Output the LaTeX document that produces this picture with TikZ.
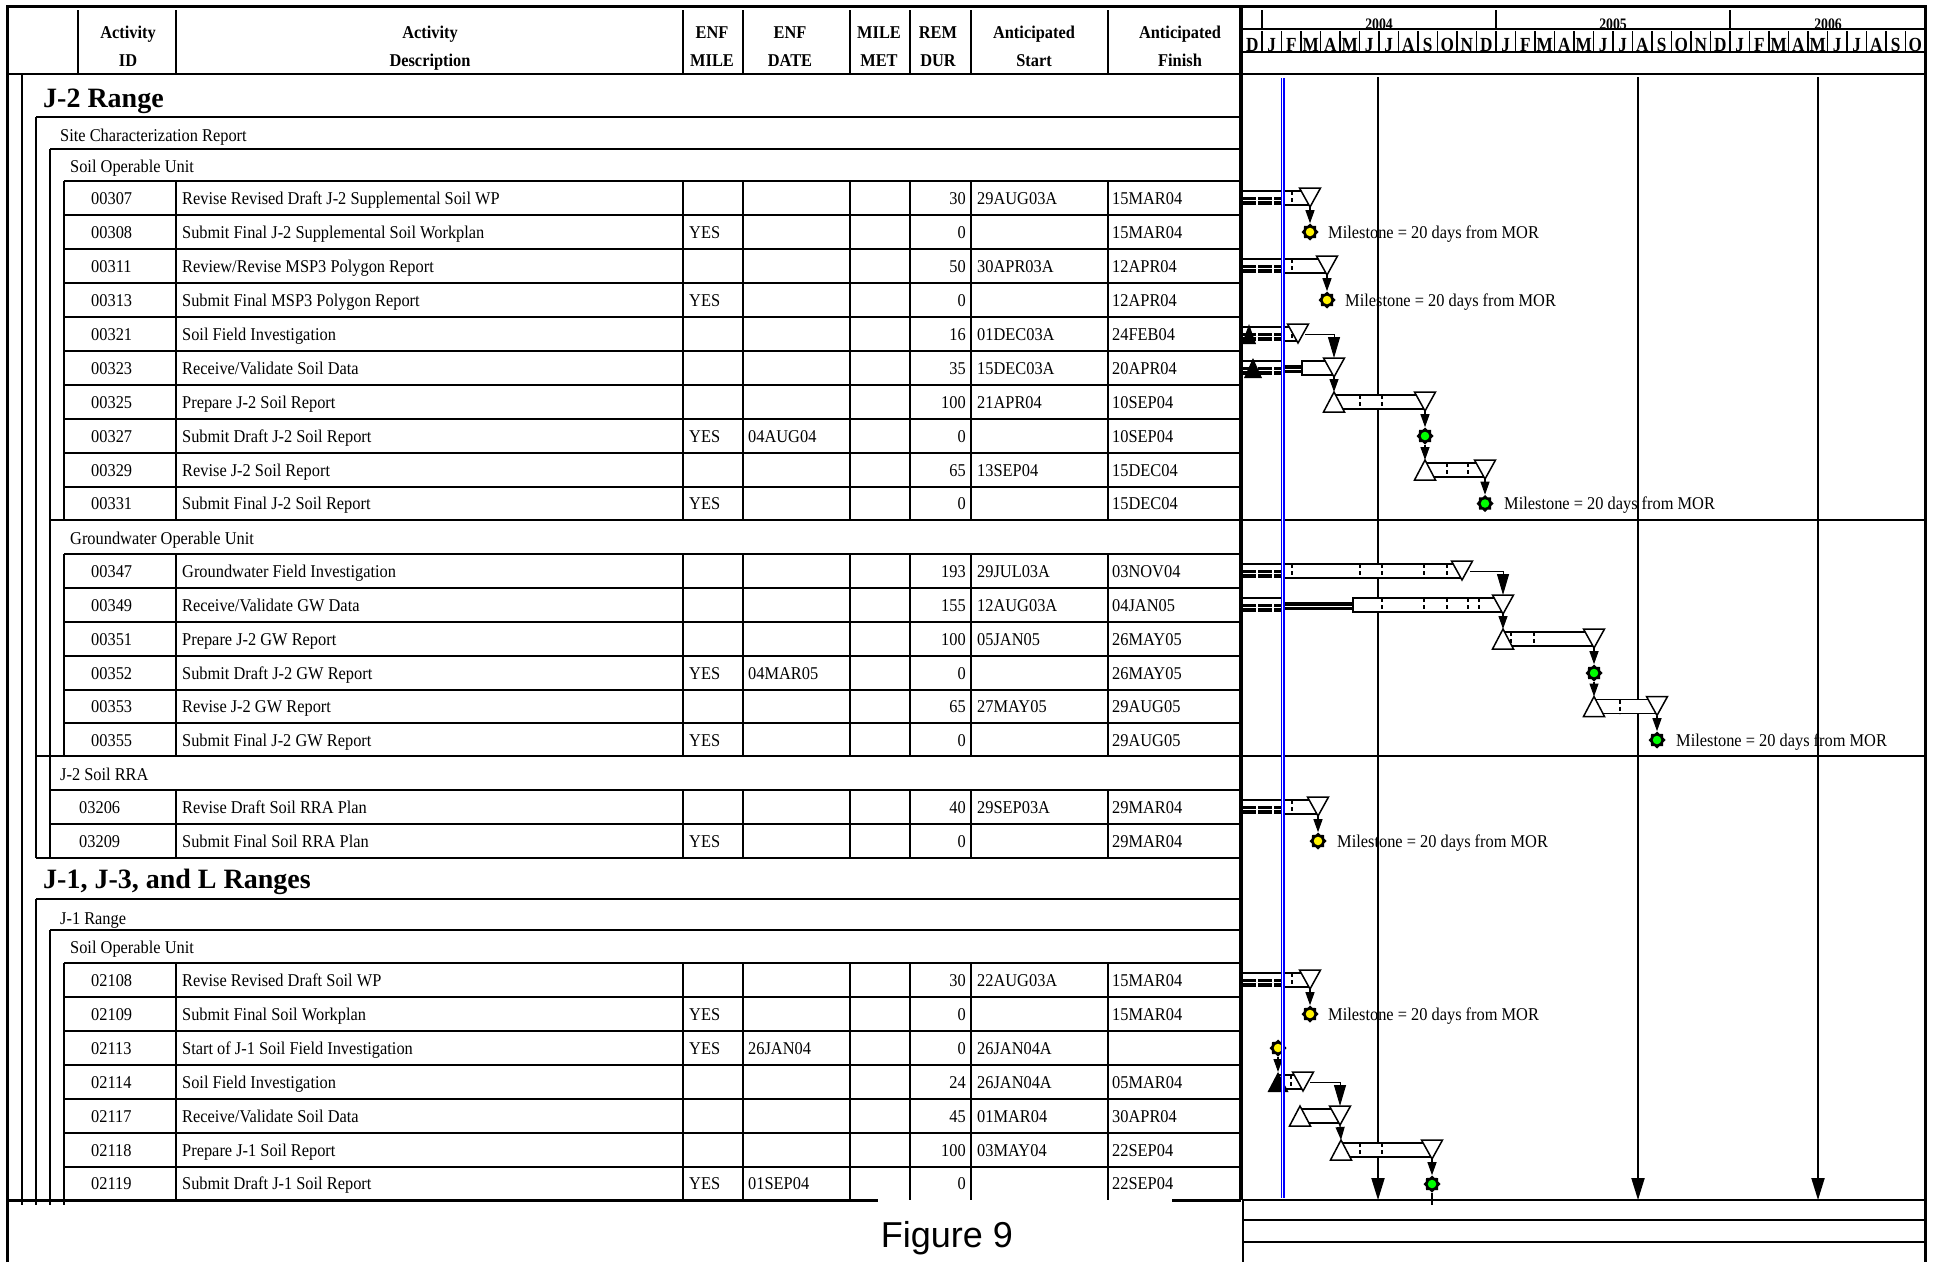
\documentclass[tikz,border=0pt]{standalone}
\usepackage{fontspec}
\setmainfont{Liberation Serif}[FakeStretch=0.91]
\newfontfamily\headfont{Liberation Serif}
\newfontfamily\condfont{Liberation Serif}[FakeStretch=0.86]
\newfontfamily\figfont{Liberation Sans}
\usetikzlibrary{shapes.geometric,arrows.meta}

\newcommand{\idcolx}{91}
\newcommand{\trow}[8]{%
  \node[cell] (i#2) at (\idcolx,#1+6) {#2};
  \node[cell] (d#2) at (182,#1+6) {#3};
  \node[cell] (e#2) at (689,#1+6) {#4};
  \node[cell] (t#2) at (748,#1+6) {#5};
  \node[cellr] (r#2) at (966,#1+6) {#6};
  \node[cell] (s#2) at (977,#1+6) {#7};
  \node[cell] (f#2) at (1112,#1+6) {#8};
}
\newcommand{\gbox}[3]{\draw[barsty] (#1,#3-7) rectangle (#2,#3+7);}
\newcommand{\ftri}[3]{\draw[barsty] (#2-10.5,#3-10) -- (#2+10.5,#3-10) -- (#2,#3+9) -- cycle;
  \coordinate (#1) at (#2,#3+9);}
\newcommand{\stri}[3]{\draw[barsty] (#2-10.5,#3+10) -- (#2+10.5,#3+10) -- (#2,#3-10) -- cycle;
  \coordinate (#1) at (#2,#3-10);}
\newcommand{\btri}[3]{\fill[black] (#1-#3,#2+10) -- (#1+#3,#2+10) -- (#1,#2-10) -- cycle;}
\newcommand{\prog}[2]{%
  \fill[black] (1243,#2-1.5) rectangle (#1,#2+7);
  \draw[line width=1.2pt] (1243,#2-7) -- (#1,#2-7);
  \draw[white,line width=1pt] (1243,#2+2.5) -- (#1,#2+2.5);
  \fill[white] (1256,#2-1.5) rectangle (1258,#2+7);
  \fill[white] (1272,#2-1.5) rectangle (1274,#2+7);
}
\newcommand{\dbl}[3]{\fill[black] (#1,#3-3) rectangle (#2,#3+5);
  \draw[white,line width=0.8pt] (#1,#3+1) -- (#2,#3+1);}
\newcommand{\htick}[2]{\draw[ticksty] (#1,#2-7) -- (#1,#2+7);}
\newcommand{\mstone}[4]{%
  \node[ms] (#1) at (#2,#3) {};
  \node[circle,fill=#4,minimum size=8.5pt,inner sep=0] (#1c) at (#2,#3) {};
}
\newcommand{\mlabel}[3]{\node[lbl] (#1) at (#2,#3+6) {Milestone = 20 days from MOR};}

\begin{document}
\begin{tikzpicture}[x=1pt,y=-1pt,
  frm/.style={line width=3pt},
  grd/.style={line width=1.3pt},
  thk/.style={line width=2.5pt},
  hdr/.style={font=\fontsize{18}{20}\selectfont\bfseries, anchor=base, inner sep=0},
  cell/.style={font=\fontsize{18}{20}\selectfont, anchor=base west, inner sep=0},
  cellr/.style={font=\fontsize{18}{20}\selectfont, anchor=base east, inner sep=0},
  grp/.style={font=\fontsize{18}{20}\selectfont, anchor=base west, inner sep=0},
  big/.style={font=\headfont\fontsize{28}{30}\selectfont\bfseries, anchor=base west, inner sep=0},
  mon/.style={font=\condfont\fontsize{20}{20}\selectfont\bfseries, anchor=base, inner sep=0},
  yr/.style={font=\condfont\fontsize{16}{16}\selectfont\bfseries, anchor=base, inner sep=0},
  lbl/.style={font=\fontsize{18}{20}\selectfont, anchor=base west, inner sep=0},
  barsty/.style={draw, fill=white, line width=1.5pt, line join=miter},
  ticksty/.style={line width=1.3pt, dash pattern=on 4pt off 3pt},
  dep/.style={line width=1.2pt, -{Triangle[width=9pt,length=13pt]}},
  elb/.style={line width=1pt, -{Triangle[width=12pt,length=21pt]}},
  vln/.style={line width=2pt, -{Triangle[width=13pt,length=22pt]}},
  ms/.style={star, star points=8, star point ratio=1.3, minimum size=17pt, inner sep=0, fill=black, draw=none},
]
\useasboundingbox (0,0) rectangle (1938,1262);

% ---------- frame and header ----------
\draw[frm] (7,1262) -- (7,6) -- (1925,6) -- (1925,1262);
\draw[thk] (7,74) -- (1925,74);
\foreach \cx in {78,176,683,743,850,910,971,1108} \draw[grd] (\cx,10) -- (\cx,74);

\node[hdr] (h1a) at (128,38) {Activity};
\node[hdr] (h1b) at (128,66) {ID};
\node[hdr] (h2a) at (430,38) {Activity};
\node[hdr] (h2b) at (430,66) {Description};
\node[hdr] (h3a) at (712,38) {ENF};
\node[hdr] (h3b) at (712,66) {MILE};
\node[hdr] (h4a) at (790,38) {ENF};
\node[hdr] (h4b) at (790,66) {DATE};
\node[hdr] (h5a) at (879,38) {MILE};
\node[hdr] (h5b) at (879,66) {MET};
\node[hdr] (h6a) at (938,38) {REM};
\node[hdr] (h6b) at (938,66) {DUR};
\node[hdr] (h7a) at (1034,38) {Anticipated};
\node[hdr] (h7b) at (1034,66) {Start};
\node[hdr] (h8a) at (1180,38) {Anticipated};
\node[hdr] (h8b) at (1180,66) {Finish};

% gantt header
\draw[thk] (1243,29) -- (1925,29);
\draw[thk] (1243,52) -- (1925,52);
\foreach \cx in {1262,1496,1730} \draw[grd] (\cx,10) -- (\cx,29);
\foreach \k in {0,...,33} \draw[grd] ({1262+\k*19.5},31) -- ({1262+\k*19.5},52);
\foreach \lab [count=\i] in {D,J,F,M,A,M,J,J,A,S,O,N,D,J,F,M,A,M,J,J,A,S,O,N,D,J,F,M,A,M,J,J,A,S,O}
  \node[mon] (mo\i) at ({1262+(\i-1.5)*19.5},51) {\lab};
\node[yr] (y2004) at (1379,29) {2004};
\node[yr] (y2005) at (1613,29) {2005};
\node[yr] (y2006) at (1828,29) {2006};

% ---------- table structure ----------
\draw[line width=4pt] (1241,6) -- (1241,1200);
\draw[grd] (22,74) -- (22,1205);
\draw[grd] (36,117) -- (36,858); \draw[grd] (36,899) -- (36,1205);
\draw[grd] (50,149) -- (50,858); \draw[grd] (50,930) -- (50,1205);
\draw[grd] (64,181) -- (64,520); \draw[grd] (64,554) -- (64,756); \draw[grd] (64,963) -- (64,1205);

\draw[grd] (36,117) -- (1241,117);
\draw[grd] (50,149) -- (1241,149);
\draw[grd] (64,181) -- (1241,181);
\foreach \ry in {215,249,283,317,351,385,419,453,487} \draw[grd] (64,\ry) -- (1241,\ry);
\draw[grd] (50,520) -- (1241,520);
\draw[grd] (64,554) -- (1241,554);
\foreach \ry in {588,622,656,690,723} \draw[grd] (64,\ry) -- (1241,\ry);
\draw[grd] (36,756) -- (1241,756);
\draw[grd] (50,790) -- (1241,790);
\draw[grd] (50,824) -- (1241,824);
\draw[grd] (36,858) -- (1241,858);
\draw[grd] (36,899) -- (1241,899);
\draw[grd] (50,930) -- (1241,930);
\draw[grd] (64,963) -- (1241,963);
\foreach \ry in {997,1031,1065,1099,1133,1167} \draw[grd] (64,\ry) -- (1241,\ry);
\foreach \cx in {176,683,743,850,910,971,1108} {
  \draw[grd] (\cx,181) -- (\cx,520);
  \draw[grd] (\cx,554) -- (\cx,756);
  \draw[grd] (\cx,790) -- (\cx,858);
  \draw[grd] (\cx,963) -- (\cx,1200);
}

% bottom part
\draw[frm] (7,1200) -- (878,1200);
\draw[frm] (1172,1200) -- (1241,1200);
\draw[grd] (1243,1200) -- (1925,1200);
\draw[grd] (1243,1200) -- (1243,1262);
\draw[grd] (1243,1220) -- (1925,1220);
\draw[thk] (1243,1242) -- (1925,1242);
\node[font=\figfont\fontsize{36}{36}\selectfont, anchor=base, inner sep=0] (fig) at (947,1247) {Figure 9};

% ---------- group headings ----------
\node[big] (g1) at (43,107) {J-2 Range};
\node[grp] (g2) at (60,141) {Site Characterization Report};
\node[grp] (g3) at (70,172) {Soil Operable Unit};
\node[grp] (g4) at (70,544) {Groundwater Operable Unit};
\node[grp] (g5) at (60,780) {J-2 Soil RRA};
\node[big] (g6) at (43,888) {J-1, J-3, and L Ranges};
\node[grp] (g7) at (60,924) {J-1 Range};
\node[grp] (g8) at (70,953) {Soil Operable Unit};

% ---------- rows ----------
\trow{198}{00307}{Revise Revised Draft J-2 Supplemental Soil WP}{}{}{30}{29AUG03A}{15MAR04}
\trow{232}{00308}{Submit Final J-2 Supplemental Soil Workplan}{YES}{}{0}{}{15MAR04}
\trow{266}{00311}{Review/Revise MSP3 Polygon Report}{}{}{50}{30APR03A}{12APR04}
\trow{300}{00313}{Submit Final MSP3 Polygon Report}{YES}{}{0}{}{12APR04}
\trow{334}{00321}{Soil Field Investigation}{}{}{16}{01DEC03A}{24FEB04}
\trow{368}{00323}{Receive/Validate Soil Data}{}{}{35}{15DEC03A}{20APR04}
\trow{402}{00325}{Prepare J-2 Soil Report}{}{}{100}{21APR04}{10SEP04}
\trow{436}{00327}{Submit Draft J-2 Soil Report}{YES}{04AUG04}{0}{}{10SEP04}
\trow{470}{00329}{Revise J-2 Soil Report}{}{}{65}{13SEP04}{15DEC04}
\trow{503.5}{00331}{Submit Final J-2 Soil Report}{YES}{}{0}{}{15DEC04}
\trow{571}{00347}{Groundwater Field Investigation}{}{}{193}{29JUL03A}{03NOV04}
\trow{605}{00349}{Receive/Validate GW Data}{}{}{155}{12AUG03A}{04JAN05}
\trow{639}{00351}{Prepare J-2 GW Report}{}{}{100}{05JAN05}{26MAY05}
\trow{673}{00352}{Submit Draft J-2 GW Report}{YES}{04MAR05}{0}{}{26MAY05}
\trow{706.5}{00353}{Revise J-2 GW Report}{}{}{65}{27MAY05}{29AUG05}
\trow{740}{00355}{Submit Final J-2 GW Report}{YES}{}{0}{}{29AUG05}
\renewcommand{\idcolx}{79}
\trow{807}{03206}{Revise Draft Soil RRA Plan}{}{}{40}{29SEP03A}{29MAR04}
\trow{841}{03209}{Submit Final Soil RRA Plan}{YES}{}{0}{}{29MAR04}
\renewcommand{\idcolx}{91}
\trow{980}{02108}{Revise Revised Draft Soil WP}{}{}{30}{22AUG03A}{15MAR04}
\trow{1014}{02109}{Submit Final Soil Workplan}{YES}{}{0}{}{15MAR04}
\trow{1048}{02113}{Start of J-1 Soil Field Investigation}{YES}{26JAN04}{0}{26JAN04A}{}
\trow{1082}{02114}{Soil Field Investigation}{}{}{24}{26JAN04A}{05MAR04}
\trow{1116}{02117}{Receive/Validate Soil Data}{}{}{45}{01MAR04}{30APR04}
\trow{1150}{02118}{Prepare J-1 Soil Report}{}{}{100}{03MAY04}{22SEP04}
\trow{1183.5}{02119}{Submit Draft J-1 Soil Report}{YES}{01SEP04}{0}{}{22SEP04}

% ---------- gantt: reference lines ----------
\coordinate (v1t) at (1378,77); \coordinate (v1b) at (1378,1200);
\coordinate (v2t) at (1638,77); \coordinate (v2b) at (1638,1200);
\coordinate (v3t) at (1818,77); \coordinate (v3b) at (1818,1200);
\draw[vln] (v1t) -- (v1b);
\draw[vln] (v2t) -- (v2b);
\draw[vln] (v3t) -- (v3b);
\draw[grd] (1243,520) -- (1925,520);
\draw[grd] (1243,756) -- (1925,756);

% ---------- gantt bars ----------
% 00307 / 00308
\prog{1283}{198} \gbox{1283}{1310}{198} \htick{1292}{198} \ftri{fa00307}{1310}{198}
\mstone{m00308}{1310}{232}{yellow} \mlabel{l00308}{1328}{232}
\draw[dep] (fa00307) -- (m00308);
% 00311 / 00313
\prog{1283}{266} \gbox{1283}{1327}{266} \htick{1292}{266} \ftri{fa00311}{1327}{266}
\mstone{m00313}{1327}{300}{yellow} \mlabel{l00313}{1345}{300}
\draw[dep] (fa00311) -- (m00313);
% 00321
\prog{1283}{334} \gbox{1283}{1298}{334} \htick{1292}{334} \ftri{fa00321}{1298}{334}
\btri{1249}{334}{7}
\coordinate (fr00321) at (1305,334);
% 00323
\prog{1283}{368} \dbl{1283}{1302}{368} \gbox{1302}{1334}{368} \ftri{fa00323}{1334}{368}
\btri{1253}{368}{9}
\coordinate (ft00323) at (1334,358);
\draw[elb] (fr00321) -| (ft00323);
% 00325
\gbox{1334}{1425}{402} \htick{1360}{402} \htick{1382}{402}
\stri{sa00325}{1334}{402} \ftri{fa00325}{1425}{402}
\draw[dep] (fa00323) -- (sa00325);
% 00327
\mstone{m00327}{1425}{436}{green}
\draw[dep] (fa00325) -- (m00327);
% 00329
\gbox{1425}{1485}{470} \htick{1447}{470} \htick{1468}{470}
\stri{sa00329}{1425}{470} \ftri{fa00329}{1485}{470}
\draw[dep] (m00327) -- (sa00329);
% 00331
\mstone{m00331}{1485}{503.5}{green} \mlabel{l00331}{1504}{503.5}
\draw[dep] (fa00329) -- (m00331);
% 00347
\prog{1283}{571} \gbox{1283}{1462}{571}
\foreach \tx in {1292,1360,1382,1424,1447} {\htick{\tx}{571}}
\ftri{fa00347}{1462}{571}
\coordinate (fr00347) at (1470,571);
% 00349
\prog{1283}{605} \dbl{1283}{1353}{605} \gbox{1353}{1503}{605}
\foreach \tx in {1382,1424,1447,1468,1479} {\htick{\tx}{605}}
\ftri{fa00349}{1503}{605}
\coordinate (ft00349) at (1503,595);
\draw[elb] (fr00347) -| (ft00349);
% 00351
\gbox{1503}{1594}{639} \htick{1511}{639} \htick{1534}{639}
\stri{sa00351}{1503}{639} \ftri{fa00351}{1594}{639}
\draw[dep] (fa00349) -- (sa00351);
% 00352
\mstone{m00352}{1594}{673}{green}
\draw[dep] (fa00351) -- (m00352);
% 00353
\gbox{1594}{1657}{706.5} \htick{1620}{706.5}
\stri{sa00353}{1594}{706.5} \ftri{fa00353}{1657}{706.5}
\draw[dep] (m00352) -- (sa00353);
% 00355
\mstone{m00355}{1657}{740}{green} \mlabel{l00355}{1676}{740}
\draw[dep] (fa00353) -- (m00355);
% 03206 / 03209
\prog{1283}{807} \gbox{1283}{1318}{807} \htick{1292}{807} \ftri{fa03206}{1318}{807}
\mstone{m03209}{1318}{841}{yellow} \mlabel{l03209}{1337}{841}
\draw[dep] (fa03206) -- (m03209);
% 02108 / 02109
\prog{1283}{980} \gbox{1283}{1310}{980} \htick{1292}{980} \ftri{fa02108}{1310}{980}
\mstone{m02109}{1310}{1014}{yellow} \mlabel{l02109}{1328}{1014}
\draw[dep] (fa02108) -- (m02109);
% 02113
\mstone{m02113}{1278}{1048}{yellow}
% 02114
\gbox{1278}{1303}{1082} \htick{1291}{1082} \ftri{fa02114}{1303}{1082}
\btri{1278}{1082}{10.5}
\coordinate (sa02114) at (1278,1072);
\draw[dep] (m02113) -- (sa02114);
\coordinate (fr02114) at (1310,1082);
% 02117
\gbox{1300}{1340}{1116}
\stri{sa02117}{1300}{1116} \ftri{fa02117}{1340}{1116}
\coordinate (ft02117) at (1340,1106);
\draw[elb] (fr02114) -| (ft02117);
% 02118
\gbox{1341}{1432}{1150} \htick{1360}{1150} \htick{1382}{1150}
\stri{sa02118}{1341}{1150} \ftri{fa02118}{1432}{1150}
\draw[dep] (fa02117) -- (sa02118);
% 02119
\mstone{m02119}{1432}{1184}{green}
\draw[dep] (fa02118) -- (m02119);
\coordinate (c02119) at (1432,1205);
\draw[line width=1.2pt] (m02119) -- (c02119);

% data date line
\coordinate (ddt) at (1283,78); \coordinate (ddb) at (1283,1198);
\draw[blue, line width=4.5pt] (ddt) -- (ddb);
\draw[white, line width=1pt] ([xshift=-1pt]ddt) -- ([xshift=-1pt]ddb);
\end{tikzpicture}
\end{document}
